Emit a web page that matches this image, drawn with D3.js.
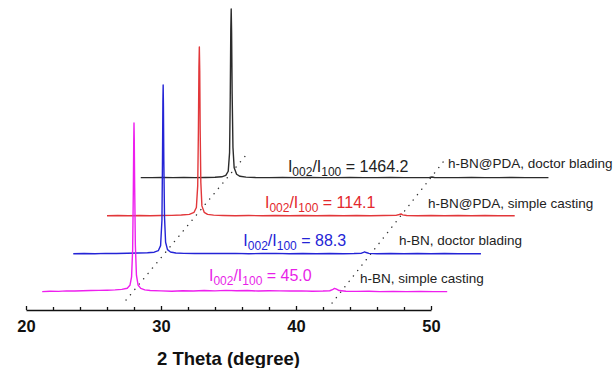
<!DOCTYPE html>
<html>
<head>
<meta charset="utf-8">
<script src="https://cdn.jsdelivr.net/npm/d3@7"></script>
<style>
  body { margin: 0; background: #fff; }
  text { font-family: Arial, "Liberation Sans", sans-serif; }
</style>
</head>
<body>
<div id="chart"></div>
<script>
// sample names, bottom trace first
var samples = ["h-BN, simple casting", "h-BN, doctor blading", "h-BN@PDA, simple casting", "h-BN@PDA, doctor blading"];
var ratios = ["45.0", "88.3", "114.1", "1464.2"];

// waterfall shifts of each trace (2 theta, normalised intensity)
var shiftX = [1.2, 3.5, 6.0, 8.5];
var shiftY = [0, 22.5, 45, 67.5];

// [2 theta, intensity], (002) peak = 100
var castingBN = [[20.0,0.3],[20.6,0.5],[21.2,0.4],[21.8,0.7],[22.4,0.6],[23.0,0.8],[23.6,0.9],[24.2,1.0],[24.8,1.1],[25.4,1.3],[25.9,1.6],[26.3,2.3],[26.5,4.0],[26.62,9],[26.7,25],[26.75,60],[26.78,88],[26.8,100],[26.82,90],[26.85,62],[26.9,28],[26.98,10],[27.1,4.2],[27.3,2.2],[27.6,1.3],[28.0,0.9],[28.8,0.7],[29.6,0.5],[30.4,0.8],[31.2,0.6],[32.0,0.9],[32.8,0.7],[33.6,1.0],[34.4,0.8],[35.2,0.9],[36.0,0.6],[36.8,0.8],[37.6,0.7],[38.4,0.6],[39.2,0.7],[40.0,0.5],[40.8,0.6],[41.3,0.8],[41.5,1.4],[41.65,2.2],[41.8,1.7],[42.0,0.9],[42.5,0.5],[43.3,0.4],[44.2,0.5],[45.0,0.3],[46.0,0.4],[47.0,0.3],[48.0,0.4],[49.0,0.3],[50.0,0.3]];
var bladingBN = [[20.0,0.2],[20.8,0.3],[21.6,0.2],[22.4,0.4],[23.2,0.3],[24.0,0.5],[24.8,0.6],[25.5,0.8],[26.0,1.1],[26.3,2.0],[26.47,5],[26.57,20],[26.61,55],[26.64,90],[26.66,100],[26.68,88],[26.71,55],[26.76,22],[26.84,7],[26.98,2.6],[27.2,1.2],[27.6,0.6],[28.2,0.4],[29.0,0.3],[30.0,0.4],[31.0,0.3],[32.0,0.4],[33.0,0.2],[34.0,0.3],[35.0,0.4],[36.0,0.2],[37.0,0.3],[38.0,0.2],[39.0,0.3],[40.0,0.2],[40.8,0.3],[41.35,0.5],[41.5,1.0],[41.58,1.3],[41.7,0.9],[41.9,0.4],[42.5,0.2],[43.5,0.3],[44.5,0.2],[45.5,0.3],[46.5,0.2],[47.5,0.3],[48.5,0.2],[49.5,0.2],[50.2,0.2]];
var castingPDA = [[20.0,0.2],[20.8,0.3],[21.6,0.2],[22.4,0.3],[23.2,0.2],[24.0,0.3],[24.8,0.4],[25.5,0.6],[26.1,1.0],[26.45,2.2],[26.62,5],[26.72,18],[26.77,50],[26.81,88],[26.84,100],[26.87,86],[26.9,52],[26.95,20],[27.03,6],[27.2,2.2],[27.45,1.0],[27.9,0.5],[28.6,0.3],[29.5,0.2],[30.5,0.3],[31.5,0.2],[32.5,0.3],[33.5,0.2],[34.5,0.3],[35.5,0.2],[36.5,0.3],[37.5,0.2],[38.5,0.3],[39.5,0.2],[40.5,0.3],[41.4,0.4],[41.65,0.9],[41.78,1.2],[41.9,0.7],[42.2,0.3],[43.0,0.2],[44.0,0.3],[45.0,0.2],[46.0,0.3],[47.0,0.2],[48.0,0.3],[49.0,0.2],[50.2,0.2]];
var bladingPDA = [[20.0,0.2],[20.8,0.2],[21.6,0.3],[22.4,0.2],[23.2,0.3],[24.0,0.2],[24.8,0.3],[25.5,0.4],[26.0,0.7],[26.3,1.5],[26.48,4],[26.58,15],[26.63,48],[26.67,88],[26.7,100],[26.73,86],[26.77,50],[26.83,18],[26.92,6],[27.1,2.2],[27.35,1.0],[27.8,0.5],[28.5,0.3],[29.5,0.2],[30.5,0.3],[31.5,0.2],[32.5,0.3],[33.5,0.2],[34.5,0.2],[35.5,0.3],[36.5,0.2],[37.5,0.2],[38.5,0.3],[39.5,0.2],[40.5,0.2],[41.4,0.3],[41.57,0.6],[41.75,0.3],[42.5,0.2],[43.5,0.2],[44.5,0.3],[45.5,0.2],[46.5,0.2],[47.5,0.3],[48.5,0.2],[49.5,0.2],[50.2,0.2]];
var traces = [castingBN, bladingBN, castingPDA, bladingPDA];

// dotted guides through the (002) and (100) peaks: [2 theta, intensity] ends
var guide002 = [[27.41,-4.7],[36.3,81.1]];
var guide100 = [[42.67,-6.5],[51.19,79.9]];

var majorTicks = [20, 30, 40, 50];
var minorTicks = [22, 24, 26, 28, 32, 34, 36, 38, 42, 44, 46, 48];

// layout
var colors = ["#ee1fee", "#2424d6", "#e2373a", "#2b2b2b"];
var textColors = ["#e81fe8", "#2424d6", "#e3282c", "#222222"];
var ratioAt = [33.55, 36.1, 37.7, 39.4];   // 2 theta where the ratio label starts
var ratioDy = [-11, -8, -8, -6];            // px above the trace baseline
var nameX = [360, 399, 428, 448];
var nameDy = [-9, -9, -8, -10];

var width = 615, height = 368;

var svg = d3.select("#chart").append("svg")
  .attr("width", width)
  .attr("height", height);

var x = d3.scaleLinear().domain([20, 50]).range([26, 431]);
var y = d3.scaleLinear().domain([-10.6, 172.8]).range([310, 0]);

var line = d3.line()
  .x(function(d) { return x(d[0]); })
  .y(function(d) { return y(d[1]); });

// dotted guides
[guide002, guide100].forEach(function(g) {
  svg.append("path")
    .attr("d", line(g))
    .attr("fill", "none")
    .attr("stroke", "#333")
    .attr("stroke-width", 1.4)
    .attr("stroke-linecap", "round")
    .attr("stroke-dasharray", "0.1,6.8");
});

// traces, top one drawn first
for (var i = traces.length - 1; i >= 0; i--) {
  var pts = traces[i].map(function(d) { return [d[0] + shiftX[i], d[1] + shiftY[i]]; });
  svg.append("path")
    .attr("d", line(pts))
    .attr("fill", "none")
    .attr("stroke", colors[i])
    .attr("stroke-width", 1.4)
    .attr("stroke-linejoin", "round");
}

// ratio labels
ratios.forEach(function(r, i) {
  var t = svg.append("text")
    .attr("x", x(ratioAt[i]))
    .attr("y", y(shiftY[i]) + ratioDy[i])
    .attr("fill", textColors[i])
    .attr("font-size", "16px");
  t.append("tspan").text("I");
  t.append("tspan").attr("font-size", "12px").attr("dy", 4).text("002");
  t.append("tspan").attr("dy", -4).text("/I");
  t.append("tspan").attr("font-size", "12px").attr("dy", 4).text("100");
  t.append("tspan").attr("dy", -4).text(" = " + r);
});

// sample names
samples.forEach(function(s, i) {
  svg.append("text")
    .attr("x", nameX[i])
    .attr("y", y(shiftY[i]) + nameDy[i])
    .attr("fill", "#222")
    .attr("font-size", "13.5px")
    .text(s);
});

// x axis, ticks pointing up
var axisG = svg.append("g").attr("transform", "translate(0,310)");
axisG.call(d3.axisBottom(x).tickValues(majorTicks).tickSizeInner(-4).tickSizeOuter(0).tickPadding(10)
  .tickFormat(d3.format("d")));
axisG.call(function(g) {
  g.append("g").call(d3.axisBottom(x).tickValues(minorTicks).tickSizeInner(-3).tickSizeOuter(0).tickFormat(""))
    .select(".domain").remove();
});
axisG.selectAll("path, line").attr("stroke", "#111").attr("stroke-width", 1.3);
axisG.selectAll("text")
  .attr("fill", "#111")
  .attr("font-size", "16.5px")
  .attr("font-weight", "bold")
  .attr("font-family", "Arial, 'Liberation Sans', sans-serif");

svg.append("text")
  .attr("x", x(35))
  .attr("y", 365)
  .attr("text-anchor", "middle")
  .attr("font-size", "18.5px")
  .attr("font-weight", "bold")
  .attr("fill", "#111")
  .text("2 Theta (degree)");
</script>
</body>
</html>
